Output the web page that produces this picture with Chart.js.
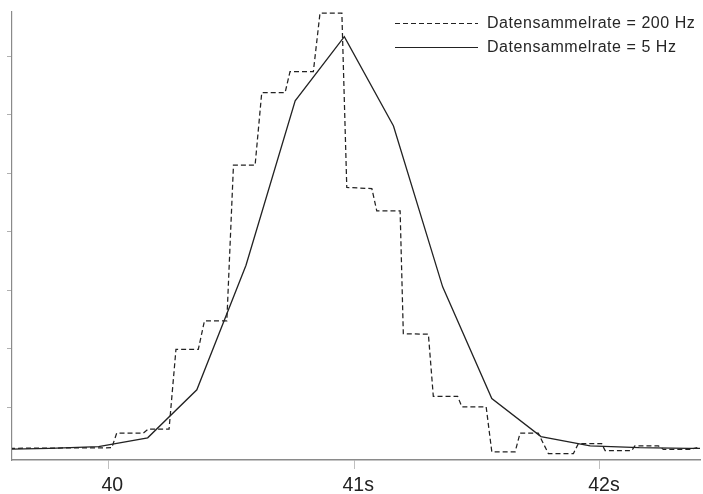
<!DOCTYPE html>
<html>
<head>
<meta charset="utf-8">
<script src="https://cdn.jsdelivr.net/npm/chart.js@4/dist/chart.umd.min.js"></script>
<style>
  html, body { margin: 0; padding: 0; background: #ffffff; }
  #wrap { width: 703px; height: 494px; }
</style>
</head>
<body>
<div id="wrap"><canvas id="c" width="703" height="494"></canvas></div>
<script>
// ---- Data ----
// Series 1: data collection rate 200 Hz (dashed, stepped)
const rate200Label = 'Datensammelrate = 200 Hz';
const rate200Time = [39.60, 40.014, 40.034, 40.142, 40.163, 40.247, 40.275, 40.366, 40.391, 40.482,
  40.509, 40.597, 40.624, 40.719, 40.739, 40.834, 40.861, 40.950, 40.970, 41.072,
  41.092, 41.187, 41.200, 41.302, 41.322, 41.421, 41.438, 41.537, 41.560, 41.655,
  41.675, 41.749, 41.790, 41.892, 41.912, 42.007, 42.021, 42.129, 42.142, 42.238,
  42.258, 42.367, 42.396];
const rate200Value = [0.30, 0.31, 0.56, 0.56, 0.63, 0.63, 1.99, 1.99, 2.48, 2.48,
  5.14, 5.14, 6.38, 6.38, 6.74, 6.74, 7.74, 7.74, 4.76, 4.74,
  4.36, 4.36, 2.26, 2.25, 1.19, 1.19, 1.01, 1.01, 0.24, 0.24,
  0.56, 0.56, 0.21, 0.21, 0.38, 0.38, 0.26, 0.26, 0.34, 0.34,
  0.28, 0.28, 0.31];

// Series 2: data collection rate 5 Hz (solid)
const rate5Label = 'Datensammelrate = 5 Hz';
const rate5Time = [39.56, 39.76, 39.96, 40.16, 40.36, 40.56, 40.76, 40.96, 41.16, 41.36,
  41.56, 41.76, 41.96, 42.16, 42.36, 42.56];
const rate5Value = [0.28, 0.30, 0.33, 0.48, 1.30, 3.43, 6.24, 7.34, 5.81, 3.06,
  1.15, 0.50, 0.34, 0.31, 0.30, 0.30];

// Axis ticks
const xTickValues = [40, 41, 42];
const xTickLabels = ['40', '41s', '42s'];
const yTickValues = [1, 2, 3, 4, 5, 6, 7];

// ---- Build ----
function pts(ts, vs) { return ts.map((t, i) => ({ x: t, y: vs[i] })); }

const legendPlugin = {
  id: 'cornerLegend',
  afterDraw(chart) {
    const ctx = chart.ctx;
    ctx.save();
    const rows = [
      { ds: chart.data.datasets[0], y: 23.5 },
      { ds: chart.data.datasets[1], y: 47.5 }
    ];
    rows.forEach(r => {
      ctx.beginPath();
      ctx.strokeStyle = '#222';
      ctx.lineWidth = 1.2;
      ctx.setLineDash(r.ds.borderDash || []);
      ctx.moveTo(395, r.y);
      ctx.lineTo(478, r.y);
      ctx.stroke();
      ctx.setLineDash([]);
      ctx.fillStyle = '#262626';
      ctx.font = '16px "Liberation Sans", Arial, sans-serif';
      try { ctx.letterSpacing = '0.55px'; } catch (e) {}
      ctx.textBaseline = 'middle';
      ctx.textAlign = 'left';
      ctx.fillText(r.ds.label, 487, r.y + 0.5);
    });
    ctx.restore();
  }
};

new Chart(document.getElementById('c'), {
  type: 'line',
  data: {
    datasets: [
      {
        label: rate200Label,
        data: pts(rate200Time, rate200Value),
        borderColor: '#222',
        borderWidth: 1.25,
        borderDash: [5, 3],
        pointRadius: 0,
        tension: 0,
        fill: false
      },
      {
        label: rate5Label,
        data: pts(rate5Time, rate5Value),
        borderColor: '#222',
        borderWidth: 1.3,
        pointRadius: 0,
        tension: 0,
        fill: false
      }
    ]
  },
  options: {
    responsive: false,
    devicePixelRatio: 1,
    animation: false,
    layout: { padding: { left: 7, right: 3, top: 12, bottom: 0 } },
    plugins: {
      legend: { display: false },
      tooltip: { enabled: false }
    },
    scales: {
      x: {
        type: 'linear',
        min: 39.608,
        max: 42.407,
        afterBuildTicks: (s) => { s.ticks = xTickValues.map(v => ({ value: v })); },
        afterFit: (s) => { s.height = 34; },
        ticks: {
          callback: (v) => { const i = xTickValues.indexOf(v); return i >= 0 ? xTickLabels[i] : ''; },
          color: '#222',
          font: { family: '"Liberation Sans", Arial, sans-serif', size: 19.5 },
          padding: 4.6,
          labelOffset: 4,
          maxRotation: 0,
          autoSkip: false
        },
        grid: { drawOnChartArea: false, drawTicks: true, tickLength: 9, color: '#c0c0c0' },
        border: { display: true, color: '#8a8a8a', width: 1.5 }
      },
      y: {
        type: 'linear',
        min: 0.1,
        max: 7.76,
        afterBuildTicks: (s) => { s.ticks = yTickValues.map(v => ({ value: v })); },
        ticks: { display: false },
        grid: { drawOnChartArea: false, drawTicks: true, tickLength: 5, color: '#b0b0b0' },
        border: { display: true, color: '#8a8a8a', width: 1.2 }
      }
    }
  },
  plugins: [legendPlugin]
});
</script>
</body>
</html>
